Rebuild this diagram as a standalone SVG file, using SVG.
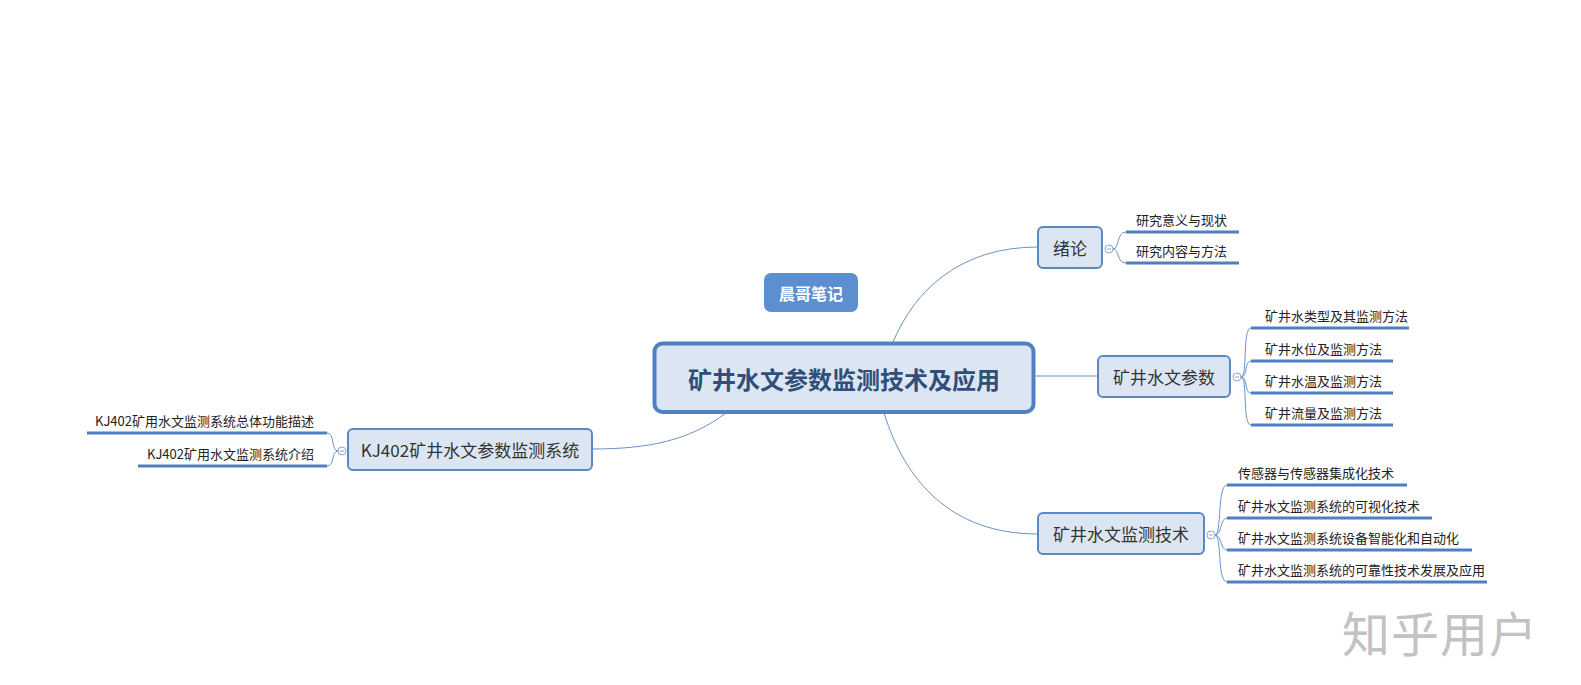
<svg xmlns="http://www.w3.org/2000/svg" width="1581" height="685" viewBox="0 0 1581 685">
<style>
text{font-family:"Noto Sans CJK SC","Liberation Sans",sans-serif;}
.box{fill:#dce6f2;stroke:#5b88c0;stroke-width:2;}
.lbl{font-size:17px;fill:#333;text-anchor:middle;dominant-baseline:central;}
.sub{font-size:13px;fill:#222;}
.ul{stroke:#4f7fc0;stroke-width:3;fill:none;}
.cn{stroke:#6b93c8;stroke-width:1;fill:none;}
.col{fill:#fff;stroke:#8aa8d0;stroke-width:1;}
.colm{stroke:#8aa8d0;stroke-width:1;}
</style>
<rect width="1581" height="685" fill="#fff"/>
<g id="connectors">
<path class="cn" d="M893 342 C915 290,960 247,1038 247"/>
<path class="cn" d="M1036 376 L1098 376"/>
<path class="cn" d="M884 413 C905 480,950 534,1038 534"/>
<path class="cn" d="M726 413 C690 440,650 449,592 449"/>
<path class="cn" d="M1113 249 C1120 249,1116 232,1126 232"/>
<path class="cn" d="M1113 249 C1120 249,1116 263,1126 263"/>
<path class="cn" d="M1241 377 C1248 377,1242 328,1251 328"/>
<path class="cn" d="M1241 377 C1248 377,1244 361,1251 361"/>
<path class="cn" d="M1241 377 C1248 377,1244 393,1251 393"/>
<path class="cn" d="M1241 377 C1248 377,1242 425,1251 425"/>
<path class="cn" d="M1215 535 C1222 535,1217 485,1227 485"/>
<path class="cn" d="M1215 535 C1222 535,1220 518,1227 518"/>
<path class="cn" d="M1215 535 C1222 535,1220 550,1227 550"/>
<path class="cn" d="M1215 535 C1222 535,1217 582,1227 582"/>
<path class="cn" d="M338 451 C331 451,335 433,327 433"/>
<path class="cn" d="M338 451 C331 451,335 466,327 466"/>
</g>
<g id="badge">
<rect x="764" y="273" width="94" height="39" rx="7" fill="#5b8fd0"/>
<text x="811" y="292.5" font-size="16" font-weight="bold" fill="#fff" text-anchor="middle" dominant-baseline="central">晨哥笔记</text>
</g>
<g id="root">
<rect x="654.5" y="343.5" width="379" height="68.5" rx="8" fill="#dce6f2" stroke="#4f81c3" stroke-width="4"/>
<text x="844" y="378" font-size="24" font-weight="bold" fill="#2f4f7a" text-anchor="middle" dominant-baseline="central">矿井水文参数监测技术及应用</text>
</g>
<g id="n-xulun">
<rect class="box" x="1038" y="227" width="64" height="41" rx="5"/>
<text class="lbl" x="1070" y="247.5">绪论</text>
<circle class="col" cx="1109" cy="249" r="4"/><line class="colm" x1="1107" y1="249" x2="1111" y2="249"/>
<text class="sub" x="1136" y="225">研究意义与现状</text>
<line class="ul" x1="1126" y1="232" x2="1239" y2="232"/>
<text class="sub" x="1136" y="256">研究内容与方法</text>
<line class="ul" x1="1126" y1="263" x2="1239" y2="263"/>
</g>
<g id="n-canshu">
<rect class="box" x="1098" y="356" width="132" height="41" rx="5"/>
<text class="lbl" x="1164" y="376.5">矿井水文参数</text>
<circle class="col" cx="1237" cy="377" r="4"/><line class="colm" x1="1235" y1="377" x2="1239" y2="377"/>
<text class="sub" x="1265" y="321">矿井水类型及其监测方法</text>
<line class="ul" x1="1251" y1="328" x2="1409" y2="328"/>
<text class="sub" x="1265" y="354">矿井水位及监测方法</text>
<line class="ul" x1="1251" y1="361" x2="1393" y2="361"/>
<text class="sub" x="1265" y="386">矿井水温及监测方法</text>
<line class="ul" x1="1251" y1="393" x2="1393" y2="393"/>
<text class="sub" x="1265" y="418">矿井流量及监测方法</text>
<line class="ul" x1="1251" y1="425" x2="1393" y2="425"/>
</g>
<g id="n-jishu">
<rect class="box" x="1038" y="513" width="166" height="41" rx="5"/>
<text class="lbl" x="1121" y="533.5">矿井水文监测技术</text>
<circle class="col" cx="1211" cy="535" r="4"/><line class="colm" x1="1209" y1="535" x2="1213" y2="535"/>
<text class="sub" x="1238" y="478">传感器与传感器集成化技术</text>
<line class="ul" x1="1227" y1="485" x2="1407" y2="485"/>
<text class="sub" x="1238" y="511">矿井水文监测系统的可视化技术</text>
<line class="ul" x1="1227" y1="518" x2="1432" y2="518"/>
<text class="sub" x="1238" y="543">矿井水文监测系统设备智能化和自动化</text>
<line class="ul" x1="1227" y1="550" x2="1472" y2="550"/>
<text class="sub" x="1238" y="575">矿井水文监测系统的可靠性技术发展及应用</text>
<line class="ul" x1="1227" y1="582" x2="1487" y2="582"/>
</g>
<g id="n-kj402">
<rect class="box" x="348" y="429" width="244" height="41" rx="5"/>
<text class="lbl" x="470" y="449.5">KJ402矿井水文参数监测系统</text>
<circle class="col" cx="342" cy="451" r="4"/><line class="colm" x1="340" y1="451" x2="344" y2="451"/>
<text class="sub" x="314" y="426" text-anchor="end">KJ402矿用水文监测系统总体功能描述</text>
<line class="ul" x1="87" y1="433" x2="327" y2="433"/>
<text class="sub" x="314" y="459" text-anchor="end">KJ402矿用水文监测系统介绍</text>
<line class="ul" x1="138" y1="466" x2="327" y2="466"/>
</g>
<g id="watermark">
<text x="1342" y="652" font-size="48" fill="#c2c2c2" letter-spacing="1">知乎用户</text>
</g>
</svg>
